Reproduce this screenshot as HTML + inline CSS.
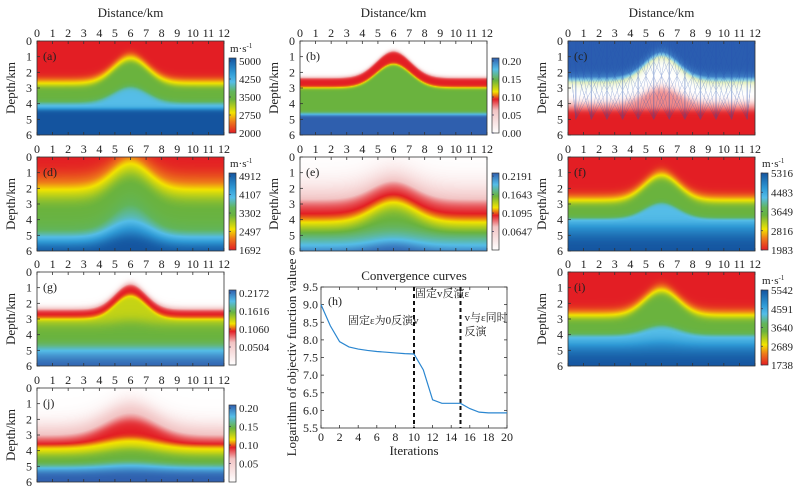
<!DOCTYPE html>
<html><head><meta charset="utf-8">
<style>
html,body{margin:0;padding:0;background:#fff;}
#root{position:relative;width:802px;height:489px;overflow:hidden;font-family:"Liberation Serif","Noto Serif CJK SC",serif;color:#222;}
canvas{position:absolute;}
svg{position:absolute;left:0;top:0;}
</style></head>
<body>
<div id="root">
<svg id="ov" width="802" height="489"></svg>
</div>
<script>
// Convergence chart data
const iterations=[0,1,2,3,4,5,6,7,8,9,10,11,12,13,14,15,16,17,18,19,20];
const objValues=[9.0,8.4,7.95,7.8,7.74,7.7,7.67,7.65,7.63,7.61,7.6,7.15,6.3,6.2,6.2,6.2,6.05,5.95,5.93,5.93,5.93];
const xTicksH=[0,2,4,6,8,10,12,14,16,18,20];
const yTicksH=[5.5,6.0,6.5,7.0,7.5,8.0,8.5,9.0,9.5];
const stageBreaks=[10,15];
const distTicks=[0,1,2,3,4,5,6,7,8,9,10,11,12];
const depthTicks=[0,1,2,3,4,5,6];

const NS='http://www.w3.org/2000/svg';
const root=document.getElementById('root');
const ov=document.getElementById('ov');
function el(tag,attrs,parent){const e=document.createElementNS(NS,tag);for(const k in attrs)e.setAttribute(k,attrs[k]);(parent||ov).appendChild(e);return e;}
function txt(s,x,y,size,anchor,parent){const t=el('text',{x:x,y:y,'font-size':size,'text-anchor':anchor||'middle',fill:'#222'},parent);t.textContent=s;return t;}

function hex(h){return [parseInt(h.slice(1,3),16),parseInt(h.slice(3,5),16),parseInt(h.slice(5,7),16)];}
const CM_V=[[0,'#e31e24'],[0.15,'#ee7a1a'],[0.27,'#f3e400'],[0.45,'#6ab33e'],[0.55,'#62b55a'],[0.68,'#55bde8'],[0.8,'#2f9ad6'],[1,'#14549f']];
const CM_E=[[0,'#ffffff'],[0.3,'#f2c4c4'],[0.45,'#e31e24'],[0.55,'#f3e400'],[0.7,'#6ab33e'],[0.85,'#55bde8'],[1,'#2f5fae']];
const CM_C=[[0,'#2a5db0'],[0.25,'#3d7cc4'],[0.35,'#7cc8e8'],[0.42,'#e4f0c0'],[0.5,'#ffffff'],[0.75,'#f08a8a'],[1,'#e31e24']];
function cmap(cm,t){t=Math.max(0,Math.min(1,t));for(let i=1;i<cm.length;i++){if(t<=cm[i][0]){const a=cm[i-1],b=cm[i];const f=(t-a[0])/(b[0]-a[0]);const ca=hex(a[1]),cb=hex(b[1]);return [0,1,2].map(k=>Math.round(ca[k]+(cb[k]-ca[k])*f));}}return hex(cm[cm.length-1][1]);}

const cols=[37,300,568], rows=[41,157,272,388], PW=187, PH=94;
const cbx=[229,492,761];
const cbY=[[58,133],[173,250],[290,365],[405,482]];

function heat(name,px,py,layers,cm,sigma){
  const c=document.createElement('canvas');c.width=PW;c.height=PH;c.style.left=px+'px';c.style.top=py+'px';
  
  root.insertBefore(c,ov);
  const ctx=c.getContext('2d');const im=ctx.createImageData(PW,PH);
  for(let j=0;j<PH;j++)for(let i=0;i<PW;i++){
    const x=(i+0.5)/PW*12,z=(j+0.5)/PH*6;const g=Math.exp(-(x-6)*(x-6)/(2*sigma*sigma));
    let t=0,prev=0;
    for(const L of layers){const d=L[0]-L[1]*g;const s=1/(1+Math.exp(-(z-d)/L[2]));t+=(L[3]-prev)*s;prev=L[3];}
    const col=cmap(cm,t);const o=(j*PW+i)*4;im.data[o]=col[0];im.data[o+1]=col[1];im.data[o+2]=col[2];im.data[o+3]=255;}
  ctx.putImageData(im,0,0);
}

function axes(name,px,py,letter,showTitle){
  const g=el('g',{});
  el('rect',{x:px,y:py,width:PW,height:PH,fill:'none',stroke:'#333','stroke-width':0.8},g);
  distTicks.forEach(v=>{const x=px+v/12*PW;el('line',{x1:x,y1:py,x2:x,y2:py+3,stroke:'#333','stroke-width':0.8},g);el('line',{x1:x,y1:py+PH,x2:x,y2:py+PH-3,stroke:'#333','stroke-width':0.8},g);txt(String(v),x,py-4,12,'middle',g);});
  depthTicks.forEach(v=>{const y=py+v/6*PH;el('line',{x1:px,y1:y,x2:px+3,y2:y,stroke:'#333','stroke-width':0.8},g);txt(String(v),px-5,y+4,12,'end',g);});
  const yl=txt('Depth/km',0,0,13,'middle',g);yl.setAttribute('transform','translate('+(px-22)+','+(py+PH/2)+') rotate(-90)');
  txt('('+letter+')',px+6,py+19,12,'start',g);
  if(showTitle)txt('Distance/km',px+PW/2,17,13,'middle',g);
}
function cbar(name,x,y0,y1,cm,labels,unit){
  const g=el('g',{});
  const id='gr'+name;const lg=el('linearGradient',{id:id,x1:0,y1:1,x2:0,y2:0},g);
  cm.forEach(s=>el('stop',{offset:s[0],'stop-color':s[1]},lg));
  el('rect',{x:x,y:y0,width:7,height:y1-y0,fill:'url(#'+id+')',stroke:'#333','stroke-width':0.7},g);
  labels.forEach((l,i)=>{const y=y1-(l[0])*(y1-y0);el('line',{x1:x,y1:y,x2:x+2,y2:y,stroke:'#335','stroke-width':0.7},g);txt(l[1],x+10,y+4,11,'start',g);});
  if(unit){const t=el('text',{x:x+1,y:y0-6,'font-size':11,fill:'#222'},g);t.innerHTML='m·s<tspan dy="-4" font-size="7">-1</tspan>';}
}
function ev(vals,fr){return vals.map((v,i)=>[fr[i],v]);}

heat('panel-a',cols[0],rows[0],[[2.45,1.6,0.12,0.27],[2.85,1.6,0.1,0.45],[3.9,1.0,0.1,0.68],[4.35,0,0.08,1.0]],CM_V,1.1);
heat('panel-b',cols[1],rows[0],[[2.3,1.7,0.06,0.45],[3.0,1.5,0.05,0.7],[4.6,0,0.05,0.85],[4.75,0,0.05,1.0]],CM_E,1.1);
heat('panel-c',cols[2],rows[0],[[2.2,1.6,0.15,0.35],[2.6,1.6,0.2,0.5],[4.0,1.0,0.15,0.75],[4.4,0,0.1,1.0]],CM_C,1.1);
heat('panel-d',cols[0],rows[1],[[1.2,1.5,0.3,0.15],[1.9,1.7,0.2,0.3],[2.6,1.6,0.25,0.45],[4.7,1.8,0.4,0.62],[5.2,0.9,0.25,0.85],[5.6,0.6,0.2,1.0]],CM_V,1.2);
heat('panel-e',cols[1],rows[1],[[2.0,1.0,0.5,0.3],[2.8,1.3,0.25,0.45],[4.0,1.3,0.2,0.55],[4.5,1.3,0.25,0.7],[5.2,0.3,0.3,0.85],[5.9,0.4,0.2,1.0]],CM_E,1.4);
heat('panel-f',cols[2],rows[1],[[2.5,1.6,0.15,0.27],[2.9,1.6,0.12,0.45],[3.9,1.0,0.08,0.68],[4.3,0,0.15,0.8],[4.9,0,0.3,1.0]],CM_V,1.1);
heat('panel-g',cols[0],rows[2],[[2.3,1.6,0.1,0.45],[3.0,1.5,0.08,0.6],[3.3,0.2,0.2,0.7],[4.8,0,0.15,0.85],[5.4,0,0.25,1.0]],CM_E,1.0);
heat('panel-i',cols[2],rows[2],[[2.5,1.6,0.15,0.27],[2.9,1.6,0.12,0.45],[4.0,0.6,0.1,0.68],[4.6,0.2,0.2,0.85],[5.1,0,0.3,1.0]],CM_V,1.1);
heat('panel-j',cols[0],rows[3],[[2.5,1.5,0.35,0.35],[3.2,1.2,0.15,0.45],[3.7,0.5,0.1,0.55],[4.2,0.4,0.15,0.7],[5.0,0.2,0.1,0.85],[5.3,0.1,0.15,1.0]],CM_E,1.6);

(function(){const g=el('g',{opacity:0.4});
for(let s=0.5;s<12;s+=1){const sx=cols[2]+s/12*PW,sy=rows[0]+5/6*PH;
 for(let k=-3;k<=3;k++){const ex=Math.max(0,Math.min(12,s+k*0.9));el('line',{x1:sx,y1:sy,x2:cols[2]+ex/12*PW,y2:rows[0],stroke:'#2a55b0','stroke-width':k==0?1.2:0.5},g);}}})();

axes('panel-a',cols[0],rows[0],'a',true);
axes('panel-b',cols[1],rows[0],'b',true);
axes('panel-c',cols[2],rows[0],'c',true);
axes('panel-d',cols[0],rows[1],'d');
axes('panel-e',cols[1],rows[1],'e');
axes('panel-f',cols[2],rows[1],'f');
axes('panel-g',cols[0],rows[2],'g');
axes('panel-i',cols[2],rows[2],'i');
axes('panel-j',cols[0],rows[3],'j');

cbar('a',cbx[0],cbY[0][0],cbY[0][1],CM_V,[[0.96,'5000'],[0.72,'4250'],[0.48,'3500'],[0.24,'2750'],[0,'2000']],true);
cbar('b',cbx[1],cbY[0][0],cbY[0][1],CM_E,[[0.96,'0.20'],[0.72,'0.15'],[0.48,'0.10'],[0.24,'0.05'],[0,'0.00']]);
cbar('d',cbx[0],cbY[1][0],cbY[1][1],CM_V,[[0.96,'4912'],[0.72,'4107'],[0.48,'3302'],[0.24,'2497'],[0,'1692']],true);
cbar('e',cbx[1],cbY[1][0],cbY[1][1],CM_E,[[0.96,'0.2191'],[0.72,'0.1643'],[0.48,'0.1095'],[0.24,'0.0647']]);
cbar('f',cbx[2],cbY[1][0],cbY[1][1],CM_V,[[1,'5316'],[0.75,'4483'],[0.5,'3649'],[0.25,'2816'],[0,'1983']],true);
cbar('g',cbx[0],cbY[2][0],cbY[2][1],CM_E,[[0.96,'0.2172'],[0.72,'0.1616'],[0.48,'0.1060'],[0.24,'0.0504']]);
cbar('i',cbx[2],cbY[2][0],cbY[2][1],CM_V,[[1,'5542'],[0.75,'4591'],[0.5,'3640'],[0.25,'2689'],[0,'1738']],true);
cbar('j',cbx[0],cbY[3][0],cbY[3][1],CM_E,[[0.96,'0.20'],[0.72,'0.15'],[0.48,'0.10'],[0.24,'0.05']]);

(function(){
 const L=321,R=507,T=287,B=428;
 const xs=v=>L+(v-0)/(20-0)*(R-L), ys=v=>B-(v-5.5)/(9.5-5.5)*(B-T);
 const g=el('g',{});
 el('rect',{x:L,y:T,width:R-L,height:B-T,fill:'none',stroke:'#333','stroke-width':0.8},g);
 xTicksH.forEach(v=>{el('line',{x1:xs(v),y1:B,x2:xs(v),y2:B-3,stroke:'#333','stroke-width':0.8},g);el('line',{x1:xs(v),y1:T,x2:xs(v),y2:T+3,stroke:'#333','stroke-width':0.8},g);txt(String(v),xs(v),B+13,12,'middle',g);});
 yTicksH.forEach(v=>{el('line',{x1:L,y1:ys(v),x2:L+3,y2:ys(v),stroke:'#333','stroke-width':0.8},g);el('line',{x1:R,y1:ys(v),x2:R-3,y2:ys(v),stroke:'#333','stroke-width':0.8},g);txt(v.toFixed(1),L-3,ys(v)+4,12,'end',g);});
 txt('Convergence curves',(L+R)/2,280,13,'middle',g);
 txt('Iterations',(L+R)/2,455,13,'middle',g);
 const yl=txt('Logarithm of objectiv function valuee',0,0,13,'middle',g);yl.setAttribute('transform','translate(296,'+((T+B)/2)+') rotate(-90)');
 stageBreaks.forEach(v=>{const l=el('line',{x1:xs(v),y1:T,x2:xs(v),y2:B,stroke:'#111','stroke-width':2,'stroke-dasharray':'4,3'},g);});
 const pts=ev(objValues,iterations).map(p=>xs(p[0])+','+ys(p[1])).join(' ');
 const pl=el('polyline',{points:pts,fill:'none',stroke:'#2a86d0','stroke-width':1.2},g);
 txt('(h)',L+7,T+18,12,'start',g);
 txt('固定ε为0反演v',L+27,T+37,11,'start',g);
 txt('固定v反演ε',xs(10)+1,T+10,11,'start',g);
 txt('v与ε同时',xs(15)+4,T+34,11,'start',g);
 txt('反演',xs(15)+4,T+48,11,'start',g);
})();
</script>
</body></html>
